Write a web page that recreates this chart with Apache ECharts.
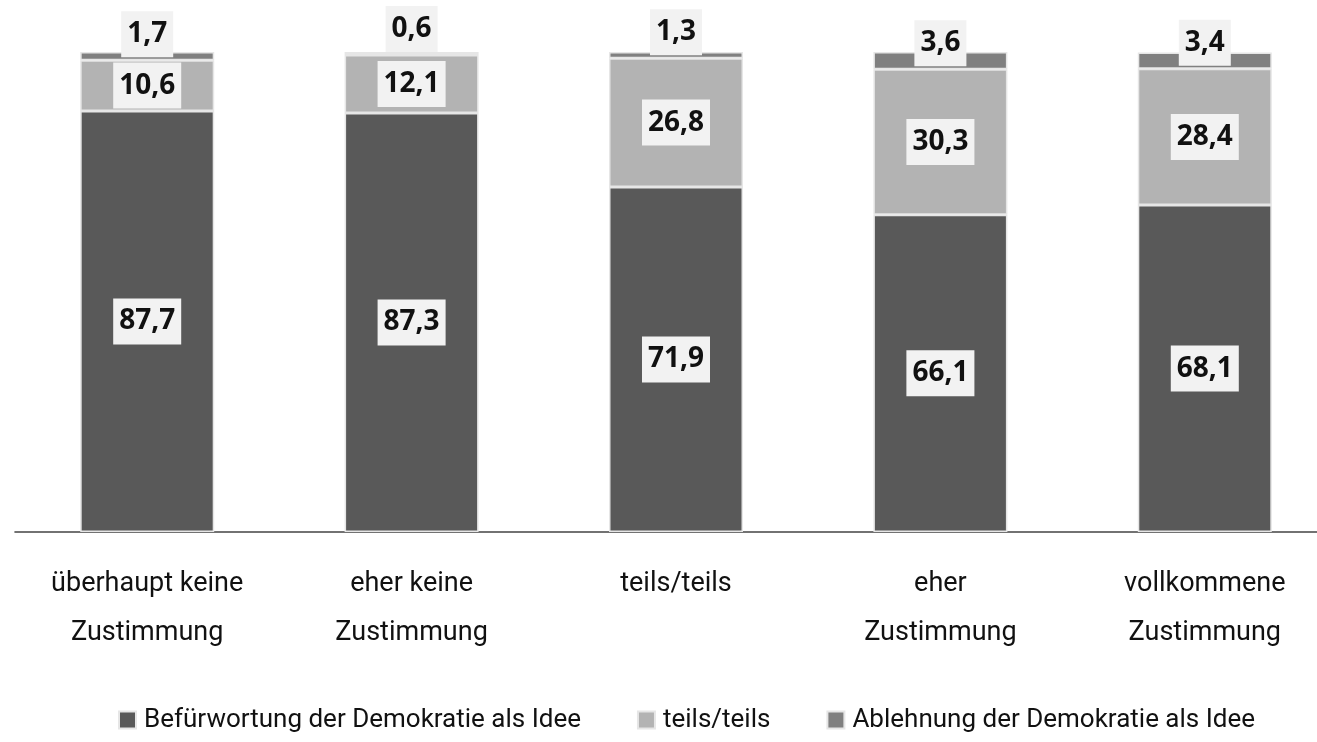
<!DOCTYPE html>
<html>
<head>
<meta charset="utf-8">
<script src="https://cdn.jsdelivr.net/npm/echarts@6/dist/echarts.min.js"></script>
<style>html,body{margin:0;padding:0;background:#fff;}#c{width:1317px;height:742px;}</style>
</head>
<body>
<div id="c"></div>
<script>
const categories = ['überhaupt keine\nZustimmung', 'eher keine\nZustimmung', 'teils/teils', 'eher\nZustimmung', 'vollkommene\nZustimmung'];
const seriesNames = ['Befürwortung der Demokratie als Idee', 'teils/teils', 'Ablehnung der Demokratie als Idee'];
const befuerwortung = [87.7, 87.3, 71.9, 66.1, 68.1];
const teils = [10.6, 12.1, 26.8, 30.3, 28.4];
const ablehnung = [1.7, 0.6, 1.3, 3.6, 3.4];
const colors = ['#595959', '#b3b3b3', '#808080'];

const narrowFont = "Roboto, 'Liberation Sans', sans-serif";
const chart = echarts.init(document.getElementById('c'), null, {renderer: 'canvas'});
const labelBase = {
  show: true,
  formatter: p => String(p.value).replace('.', ','),
  fontFamily: 'Open Sans',
  fontWeight: 'bold',
  fontSize: 28,
  lineHeight: 26,
  color: '#111',
  backgroundColor: '#f2f2f2',
  padding: [10, 6]
};
function mk(name, data, color, pos, dist) {
  return {
    name: name,
    type: 'bar',
    stack: 'total',
    data: data,
    barWidth: 134,
    itemStyle: {color: color, borderColor: '#e6e6e6', borderWidth: 1.5},
    label: Object.assign({}, labelBase, {position: pos, distance: dist}),
    emphasis: {disabled: true}
  };
}
chart.setOption({
  animation: false,
  color: colors,
  grid: {left: 15, width: 1322, top: 52, bottom: 210, outerBoundsMode: 'none', containLabel: false},
  xAxis: {
    type: 'category',
    data: categories,
    axisLine: {lineStyle: {color: '#444', width: 1.6}},
    axisTick: {show: false},
    axisLabel: {
      interval: 0,
      fontFamily: narrowFont,
      fontSize: 27,
      lineHeight: 49,
      color: '#111',
      margin: 28
    }
  },
  yAxis: {type: 'value', min: 0, max: 100, show: false},
  legend: {
    left: 118,
    top: 707,
    padding: 0,
    itemWidth: 17,
    itemHeight: 17,
    itemGap: 56,
    icon: 'rect',
    textStyle: {
      fontFamily: narrowFont,
      fontSize: 26,
      color: '#111',
      padding: [0, 0, 0, 3]
    },
    data: seriesNames
  },
  series: [
    mk(seriesNames[0], befuerwortung, colors[0], 'inside', 5),
    mk(seriesNames[1], teils, colors[1], 'inside', 5),
    mk(seriesNames[2], ablehnung, colors[2], 'insideBottom', 3)
  ]
});
</script>
</body>
</html>
